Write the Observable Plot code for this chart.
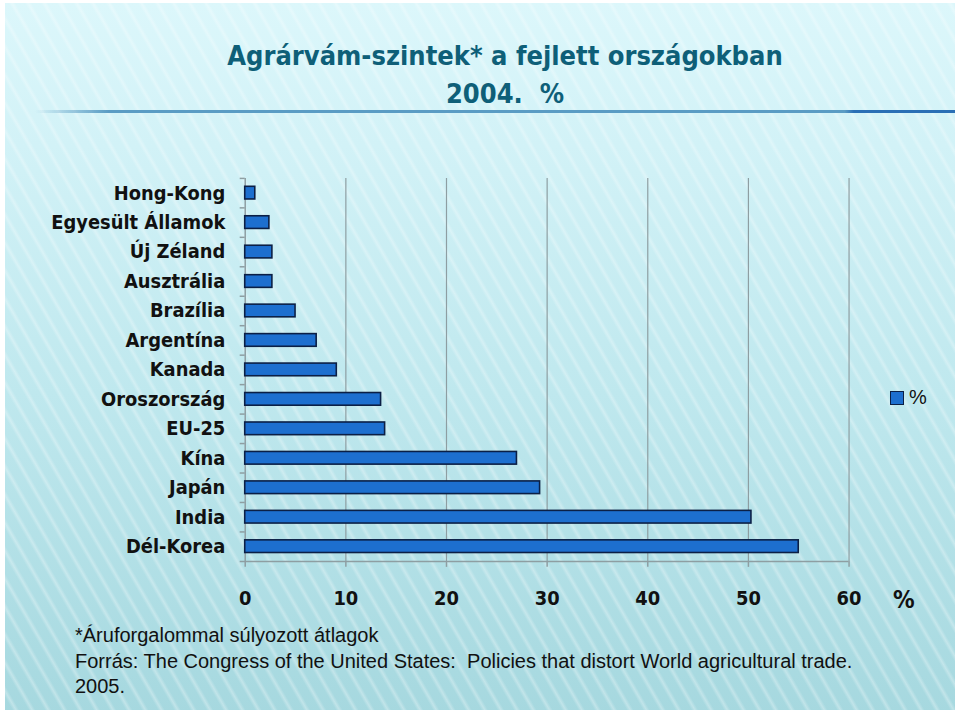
<!DOCTYPE html>
<html>
<head>
<meta charset="utf-8">
<script src="https://cdn.jsdelivr.net/npm/d3@7"></script>
<script src="https://cdn.jsdelivr.net/npm/@observablehq/plot@0.6"></script>
<style>
  html, body { margin: 0; padding: 0; background: #ffffff; }
  #slide {
    position: relative; width: 950px; height: 710px; left: 5px; top: 3px; overflow: hidden;
    background:
      repeating-linear-gradient(60deg, rgba(255,255,255,0) 0px, rgba(255,255,255,0) 8px, rgba(255,255,255,0.3) 11px, rgba(255,255,255,0) 14px),
      linear-gradient(180deg, #dcf7fb 0%, #d2f2f7 20%, #bfe8ee 55%, #a6d8df 100%);
    font-family: "Liberation Sans", Arial, sans-serif;
  }
  .abs { position: absolute; white-space: nowrap; }
  #title { left: 0; width: 1000px; top: 34px; text-align: center; font-weight: bold; font-size: 27px; color: #0e5f78; line-height: 38px;
    font-family: "DejaVu Sans Condensed", "DejaVu Sans", sans-serif; }
  #rule { left: 30px; top: 107px; width: 920px; height: 3px;
    background: linear-gradient(90deg, rgba(74,144,184,0) 0%, #5a9cc4 8%, #5a9cc4 88%, #2a6fb5 89%, #2a6fb5 100%); }
  #chart { left: -5px; top: 157px; }
  #chart svg { display: block; }
  #pct { left: 888px; top: 583px; font-weight: bold; font-size: 24px; color: #111; font-family: "DejaVu Sans Condensed", "DejaVu Sans", sans-serif; }
  #legend { left: 885px; top: 383px; font-size: 20px; color: #111; display: flex; align-items: center; }
  #legend .sw { width: 12px; height: 12px; background: #1d6fcf; border: 1.5px solid #0b1f45; margin-right: 5px; }
  .cap { left: 70px; font-size: 20px; color: #111; }
</style>
</head>
<body>
<div id="slide">
  <div id="title" class="abs">Agrárvám-szintek* a fejlett országokban<br>2004.&nbsp; %</div>
  <div id="rule" class="abs"></div>
  <div id="chart" class="abs"></div>
  <div id="pct" class="abs">%</div>
  <div id="legend" class="abs"><div class="sw"></div><span>%</span></div>
  <div class="abs cap" style="top:621px">*Áruforgalommal súlyozott átlagok</div>
  <div class="abs cap" style="top:647px">Forrás: The Congress of the United States:&nbsp; Policies that distort World agricultural trade.</div>
  <div class="abs cap" style="top:672px">2005.</div>
</div>
<script>
const countries = ["Hong-Kong", "Egyesült Államok", "Új Zéland", "Ausztrália", "Brazília", "Argentína", "Kanada", "Oroszország", "EU-25", "Kína", "Japán", "India", "Dél-Korea"];
const tariffs = [1.0, 2.4, 2.7, 2.7, 5.0, 7.1, 9.1, 13.5, 13.9, 27.0, 29.3, 50.3, 55.0];
const xTicks = [0, 10, 20, 30, 40, 50, 60];

const data = countries.map((c, i) => ({country: c, value: tariffs[i]}));

const W = 960, H = 462, mL = 246, mR = 107, mT = 18, mB = 59;
const step = (H - mT - mB) / countries.length;
const grey = "#8e9ea2";
const font = "'DejaVu Sans Condensed', 'DejaVu Sans', sans-serif";

const chart = Plot.plot({
  width: W, height: H,
  marginLeft: mL, marginRight: mR, marginTop: mT, marginBottom: mB,
  style: {background: "transparent", fontFamily: font, overflow: "visible"},
  x: {domain: [0, 60]},
  y: {domain: countries, paddingInner: 0.57, paddingOuter: 0.285, align: 0.5, round: false},
  marks: [
    Plot.ruleX(xTicks.slice(1), {stroke: grey, strokeWidth: 1.2}),
    Plot.ruleX([0], {stroke: grey, strokeWidth: 1.5}),
    Plot.ruleY(countries, {y: d => d, dy: -step / 2, x1: -0.5, x2: 0, stroke: grey, strokeWidth: 1.5}),
    Plot.ruleY(countries.slice(-1), {y: d => d, dy: step / 2, x1: -0.5, x2: 60, stroke: grey, strokeWidth: 1.5}),
    Plot.barX(data, {x: "value", y: "country", fill: "#1d6fcf", stroke: "#0b1f45", strokeWidth: 1.6}),
    Plot.axisY({tickSize: 0, tickPadding: 20, fontSize: 20, fontWeight: "bold", fill: "#111", label: null}),
    Plot.axisX({ticks: xTicks, tickSize: 6, tickPadding: 24, fontSize: 20, fontWeight: "bold", fill: "#111", stroke: grey, strokeWidth: 1.5, label: null, tickFormat: d => String(d)})
  ]
});
document.getElementById("chart").appendChild(chart);
</script>
</body>
</html>
